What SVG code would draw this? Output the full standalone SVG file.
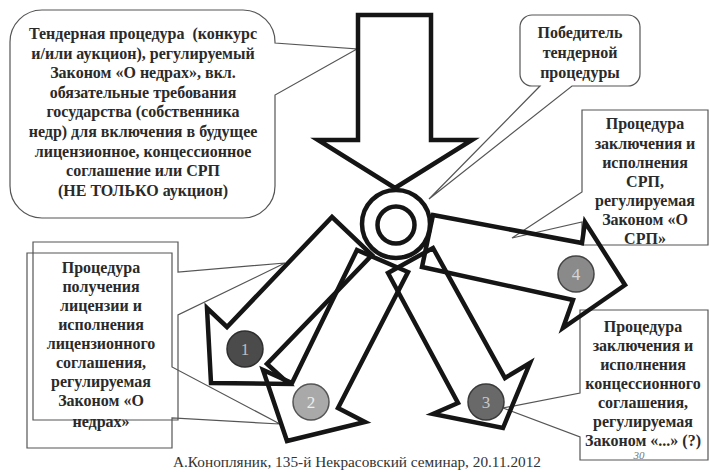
<svg xmlns="http://www.w3.org/2000/svg" width="710" height="472" viewBox="0 0 710 472">
<style>
.bg{fill:#fff}
.co{fill:#fff;stroke:#555;stroke-width:1.2}
.con{fill:none;stroke:#555;stroke-width:1.2}
.ar{fill:none;stroke:#151515;stroke-width:4.5;stroke-linejoin:miter;stroke-miterlimit:10}
.hub{fill:#fff;stroke:#151515;stroke-width:4.5}
.t{font-family:"Liberation Serif","Times New Roman",serif;font-weight:bold;font-size:16px;fill:#2a2a2a;text-anchor:middle}
.n{font-family:"Liberation Serif","Times New Roman",serif;font-size:17px;text-anchor:middle}
.f{font-family:"Liberation Serif","Times New Roman",serif;font-size:15.3px;fill:#333;text-anchor:middle}
</style>
<rect class="bg" x="0" y="0" width="710" height="472"/>

<g id="callout-tender">
<path class="co" d="M42,10 H243 A32,32 0 0 1 275,42 V43 L357,49 L275,95 V186 A32,32 0 0 1 243,218 H42 A32,32 0 0 1 10,186 V42 A32,32 0 0 1 42,10 Z"/>
<text class="t" x="143" y="39" xml:space="preserve">Тендерная процедура  (конкурс</text>
<text class="t" x="143" y="59">и/или аукцион), регулируемый</text>
<text class="t" x="143" y="78">Законом «О недрах», вкл.</text>
<text class="t" x="143" y="98">обязательные требования</text>
<text class="t" x="143" y="117">государства (собственника</text>
<text class="t" x="143" y="137">недр) для включения в будущее</text>
<text class="t" x="143" y="157">лицензионное, концессионное</text>
<text class="t" x="143" y="176">соглашение или СРП</text>
<text class="t" x="143" y="196">(НЕ ТОЛЬКО аукцион)</text>
</g>

<g id="callout-winner">
<path class="co" d="M532,15 H628 A12,12 0 0 1 640,27 V74 A12,12 0 0 1 628,86 H572 L429,199 L540,86 H532 A12,12 0 0 1 520,74 V27 A12,12 0 0 1 532,15 Z"/>
<text class="t" x="580" y="38">Победитель</text>
<text class="t" x="580" y="58">тендерной</text>
<text class="t" x="580" y="78">процедуры</text>
</g>

<g id="callout-srp">
<path class="co" d="M582,110 H708 V245 H582 V222 L512,238 L582,192 Z"/>
<text class="t" x="645" y="129">Процедура</text>
<text class="t" x="645" y="149">заключения и</text>
<text class="t" x="645" y="168">исполнения</text>
<text class="t" x="645" y="187">СРП,</text>
<text class="t" x="645" y="206">регулируемая</text>
<text class="t" x="645" y="225">Законом «О</text>
<text class="t" x="645" y="244">СРП»</text>
</g>

<g id="callout-license">
<path class="con" d="M33,242 H178 V272 L285,263 L178,315 V420 H33 Z"/>
<path class="con" d="M27,253 H172 V367 L280,424 L172,418 V448 H27 Z"/>
<text class="t" x="101" y="273">Процедура</text>
<text class="t" x="101" y="292">получения</text>
<text class="t" x="101" y="311">лицензии и</text>
<text class="t" x="101" y="330">исполнения</text>
<text class="t" x="101" y="349">лицензионного</text>
<text class="t" x="101" y="368">соглашения,</text>
<text class="t" x="101" y="387">регулируемая</text>
<text class="t" x="101" y="406">Законом «О</text>
<text class="t" x="101" y="427">недрах»</text>
</g>

<g id="callout-concession">
<path class="co" d="M580,310 H708 V460 H580 V437 L503,408 L580,393 Z"/>
<text class="t" x="643" y="332">Процедура</text>
<text class="t" x="643" y="351">заключения и</text>
<text class="t" x="643" y="370">исполнения</text>
<text class="t" x="643" y="389">концессионного</text>
<text class="t" x="643" y="408">соглашения,</text>
<text class="t" x="643" y="427">регулируемая</text>
<text class="t" x="643" y="446">Законом «...» (?)</text>
</g>

<g id="connectors">
<polygon id="arrow-main" class="ar" points="358,15 431,15 431,140 472,140 395,188 318,140 358,140"/>
<polygon id="arrow-1" class="ar" points="332,217 372,255 267,364 289,384 211,383 207,308 227,327"/>
<polygon id="arrow-2" class="ar" points="357,250 408,272 338,408 365,422 287,441 263,370 292,383"/>
<polygon id="arrow-3" class="ar" points="388,273 433,248 505,378 530,363 503,428 433,414 458,403"/>
<polygon id="arrow-4" class="ar" points="433,215 582,243 585,222 625,285 563,328 573,300 422,267"/>
</g>

<g id="hub">
<circle class="hub" cx="396" cy="224" r="34"/>
<circle class="hub" cx="396" cy="225" r="18.5"/>
</g>

<g id="badge-1">
<circle cx="245" cy="349" r="18" fill="#4b4b4b" stroke="#2e2e2e" stroke-width="1.5"/>
<text class="n" x="245" y="355" fill="#bdbdbd">1</text>
</g>
<g id="badge-2">
<circle cx="311" cy="402" r="18" fill="#a9a9a9" stroke="#555" stroke-width="1.5"/>
<text class="n" x="311" y="408" fill="#eeeeee">2</text>
</g>
<g id="badge-3">
<circle cx="486" cy="402" r="18" fill="#696969" stroke="#3a3a3a" stroke-width="1.5"/>
<text class="n" x="486" y="408" fill="#c8c8c8">3</text>
</g>
<g id="badge-4">
<circle cx="576" cy="274" r="18" fill="#8a8a8a" stroke="#444" stroke-width="1.5"/>
<text class="n" x="576" y="280" fill="#d6d6d6">4</text>
</g>

<text x="639" y="459" font-family="Liberation Serif, serif" font-style="italic" font-size="11" fill="#777" text-anchor="middle">30</text>
<text class="f" x="357" y="467">А.Конопляник, 135-й Некрасовский семинар, 20.11.2012</text>
</svg>
